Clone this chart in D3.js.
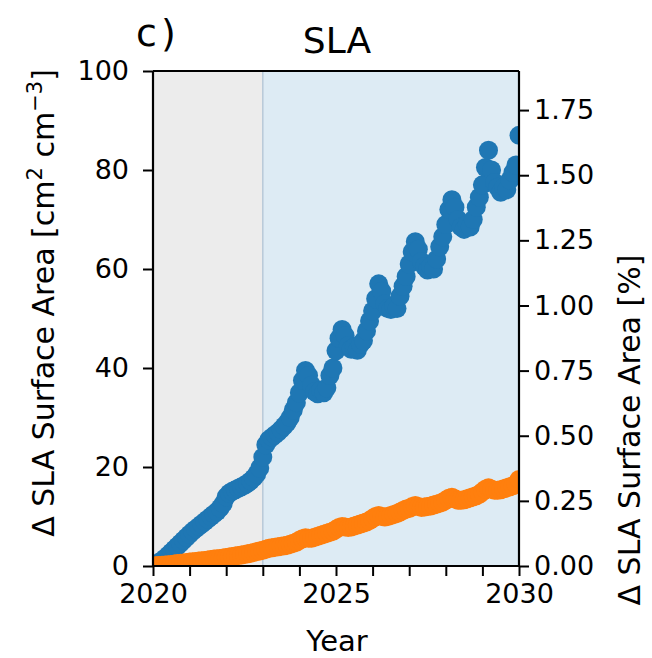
<!DOCTYPE html>
<html>
<head>
<meta charset="utf-8">
<script src="https://cdn.jsdelivr.net/npm/d3@7"></script>
<style>
  body { margin: 0; background: #fff; }
  text { font-family: "DejaVu Sans", sans-serif; fill: #000; }
</style>
</head>
<body>
<div id="chart"></div>
<script>
// monthly samples, Jan 2020 .. Jan 2030
const months = d3.range(121).map((i) => 2020 + i / 12);

// Δ SLA surface area, upper series (blue)
const blueValues = [
  0.0, 0.3, 0.7, 1.1, 1.6, 2.2, 2.8, 3.4, 4.0, 4.6, 5.2, 5.8,
  6.4, 7.0, 7.5, 8.0, 8.5, 9.0, 9.5, 10.0, 10.5, 11.0, 11.7, 12.6,
  14.0, 14.7, 15.1, 15.4, 15.7, 16.0, 16.3, 16.7, 17.2, 17.8, 18.6, 19.8,
  22.0, 24.5, 25.5, 26.0, 26.5, 27.0, 27.6, 28.3, 29.0, 30.0, 31.5, 33.0,
  35.0, 37.5, 39.5, 38.5, 36.5, 35.2, 34.8, 35.5, 35.0, 36.0, 38.5, 40.0,
  43.5, 46.0, 47.8, 46.5, 44.5, 43.8, 44.2, 43.6, 44.8, 45.5, 47.5, 49.5,
  51.5, 54.0, 57.0, 55.5, 53.0, 52.0, 51.8, 52.5, 52.0, 54.5, 56.5, 58.5,
  61.0, 63.5, 65.5, 64.0, 61.5, 60.5, 59.8, 60.5, 60.0, 62.0, 64.5, 66.5,
  69.0, 72.0, 74.0, 72.5, 70.0, 68.5, 68.0, 69.0, 68.5, 70.0, 72.5, 74.5,
  77.0, 80.5, 84.0, 80.0, 77.5, 76.5, 75.5, 76.5, 76.0, 78.0, 79.5, 81.0,
  87.0
];

// lower series (orange)
const orangeValues = [
  0.0, 0.05, 0.1, 0.15, 0.2, 0.25, 0.3, 0.4, 0.5, 0.55, 0.6, 0.7,
  0.8, 0.85, 0.9, 1.0, 1.05, 1.1, 1.2, 1.3, 1.4, 1.45, 1.5, 1.6,
  1.7, 1.8, 1.9, 2.0, 2.1, 2.2, 2.3, 2.45, 2.6, 2.75, 2.9, 3.05,
  3.2, 3.4, 3.6, 3.7, 3.8, 3.9, 4.0, 4.1, 4.2, 4.4, 4.6, 4.8,
  5.2, 5.5, 5.7, 5.6, 5.6, 5.8, 6.0, 6.2, 6.4, 6.6, 6.8, 7.0,
  7.4, 7.8, 8.0, 7.9, 7.8, 7.9, 8.1, 8.3, 8.5, 8.7, 8.9, 9.2,
  9.6, 10.0, 10.2, 10.0, 9.9, 10.0, 10.2, 10.4, 10.6, 10.9, 11.2, 11.5,
  11.6, 12.0, 12.2, 12.0, 11.8, 11.9, 12.0, 12.1, 12.3, 12.5, 12.7, 12.9,
  13.3, 13.7, 13.9, 13.6, 13.3, 13.3, 13.4, 13.6, 13.8, 14.0, 14.2, 14.5,
  15.0, 15.5, 15.8, 15.5, 15.3, 15.3, 15.4, 15.6, 15.8, 16.0, 16.2, 16.5,
  17.5
];

const leftTicks = [0, 20, 40, 60, 80, 100];
const rightTicks = [0, 0.25, 0.5, 0.75, 1.0, 1.25, 1.5, 1.75];
const yearTicks = d3.range(2020, 2031);
const yearLabels = [2020, 2025, 2030];
const spinupEnd = 2023;

const W = 652, H = 658;
const plot = { left: 153, right: 519, top: 71, bottom: 566 };

const svg = d3.select("#chart").append("svg")
  .attr("width", W).attr("height", H);

const x = d3.scaleLinear().domain([2020, 2030]).range([plot.left, plot.right]);
const y = d3.scaleLinear().domain([0, 100]).range([plot.bottom, plot.top]);
const yR = d3.scaleLinear().domain([0, 1.9]).range([plot.bottom, plot.top]);

svg.append("clipPath").attr("id", "clip")
  .append("rect")
  .attr("x", plot.left).attr("y", plot.top)
  .attr("width", plot.right - plot.left).attr("height", plot.bottom - plot.top);

// shaded periods
svg.append("rect")
  .attr("x", x(2020)).attr("y", plot.top)
  .attr("width", x(spinupEnd) - x(2020)).attr("height", plot.bottom - plot.top)
  .attr("fill", "#ececec");
svg.append("rect")
  .attr("x", x(spinupEnd)).attr("y", plot.top)
  .attr("width", x(2030) - x(spinupEnd)).attr("height", plot.bottom - plot.top)
  .attr("fill", "#ddebf4");
svg.append("line")
  .attr("x1", x(spinupEnd)).attr("x2", x(spinupEnd))
  .attr("y1", plot.top).attr("y2", plot.bottom)
  .attr("stroke", "#b8c9d8").attr("stroke-width", 1.5);

const dots = svg.append("g").attr("clip-path", "url(#clip)");
dots.selectAll(".blue").data(blueValues).enter()
  .append("circle").attr("class", "blue")
  .attr("cx", (d, i) => x(months[i]))
  .attr("cy", (d) => y(d))
  .attr("r", 9.5)
  .attr("fill", "#1f77b4");
dots.selectAll(".orange").data(orangeValues).enter()
  .append("circle").attr("class", "orange")
  .attr("cx", (d, i) => x(months[i]))
  .attr("cy", (d) => y(d))
  .attr("r", 9.5)
  .attr("fill", "#ff7f0e");

// axes
const tickFont = 27;
const axL = svg.append("g").attr("transform", `translate(${plot.left},0)`)
  .call(d3.axisLeft(y).tickValues(leftTicks).tickSize(10).tickPadding(14).tickFormat(d3.format("d")));
const axR = svg.append("g").attr("transform", `translate(${plot.right},0)`)
  .call(d3.axisRight(yR).tickValues(rightTicks).tickSize(10).tickPadding(5).tickFormat(d3.format(".2f")));
const axB = svg.append("g").attr("transform", `translate(0,${plot.bottom})`)
  .call(d3.axisBottom(x).tickValues(yearTicks).tickSize(10).tickPadding(8)
    .tickFormat((d) => (yearLabels.includes(d) ? d : "")));
svg.append("line")
  .attr("x1", plot.left).attr("x2", plot.right)
  .attr("y1", plot.top).attr("y2", plot.top)
  .attr("stroke", "#000").attr("stroke-width", 2.2);

[axL, axR, axB].forEach((g) => {
  g.select(".domain").attr("stroke-width", 2.2);
  g.selectAll(".tick line").attr("stroke-width", 2);
  g.selectAll(".tick text")
    .style("font-family", '"DejaVu Sans", sans-serif')
    .style("font-size", tickFont + "px");
});
axB.select(".domain").attr("d", `M${plot.left},0H${plot.right}`);
axL.select(".domain").attr("d", `M0,${plot.bottom}V${plot.top}`);
axR.select(".domain").attr("d", `M0,${plot.bottom}V${plot.top}`);

// labels
svg.append("text")
  .attr("x", 337).attr("y", 651)
  .attr("text-anchor", "middle")
  .style("font-size", "29px")
  .text("Year");

const leftLab = svg.append("text")
  .attr("transform", "translate(54,303) rotate(-90)")
  .attr("text-anchor", "middle")
  .style("font-size", "30px");
leftLab.append("tspan").text("Δ SLA Surface Area [cm");
leftLab.append("tspan").attr("dy", -12).style("font-size", "21px").text("2");
leftLab.append("tspan").attr("dy", 12).text(" cm");
leftLab.append("tspan").attr("dy", -12).style("font-size", "21px").text("−3");
leftLab.append("tspan").attr("dy", 12).text("]");

svg.append("text")
  .attr("transform", "translate(640,430) rotate(-90)")
  .attr("text-anchor", "middle")
  .style("font-size", "30px")
  .text("Δ SLA Surface Area [%]");

svg.append("text")
  .attr("x", 337).attr("y", 53)
  .attr("text-anchor", "middle")
  .style("font-size", "36px")
  .text("SLA");
svg.append("text")
  .attr("x", 136).attr("y", 46)
  .style("font-size", "38px")
  .style("letter-spacing", "4px")
  .text("c)");
</script>
</body>
</html>
